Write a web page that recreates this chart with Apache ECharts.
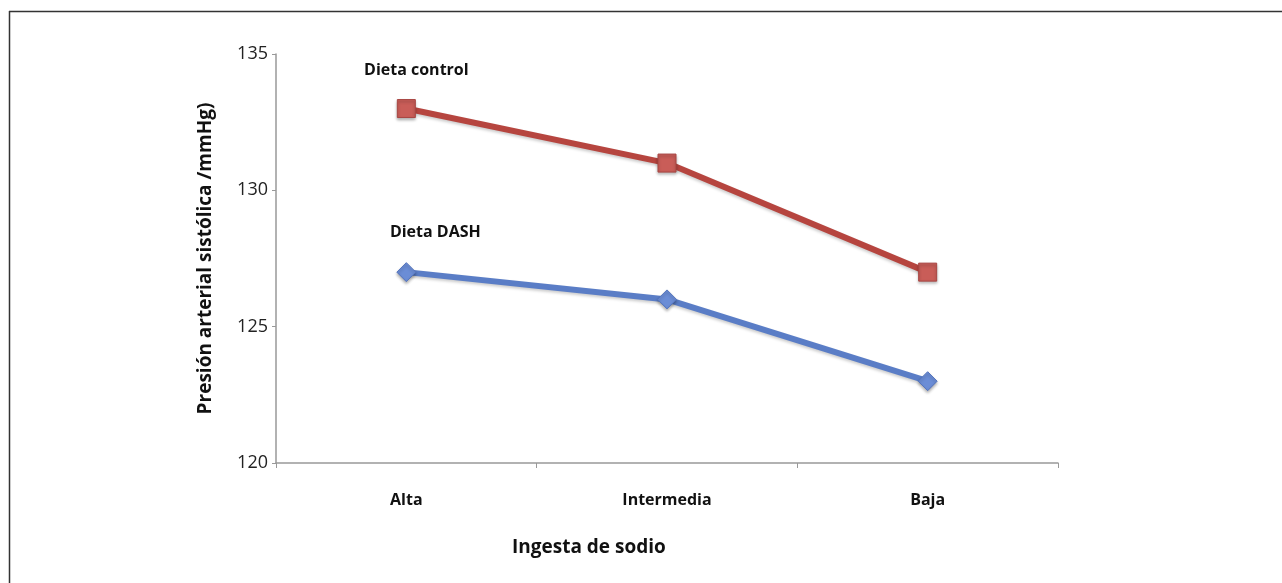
<!DOCTYPE html>
<html>
<head>
<meta charset="utf-8">
<script src="https://cdn.jsdelivr.net/npm/echarts@6/dist/echarts.min.js"></script>
<style>
html,body{margin:0;padding:0;background:#fff;}
#c{width:1282px;height:583px;}
</style>
</head>
<body>
<div id="c"></div>
<script>
const categories = ['Alta', 'Intermedia', 'Baja'];
const controlValues = [133, 131, 127];
const dashValues = [127, 126, 123];
const yTicks = [120, 125, 130, 135];
const seriesNames = ['Dieta control', 'Dieta DASH'];
const xAxisTitle = 'Ingesta de sodio';
const yAxisTitle = 'Presión arterial sistólica /mmHg)';

const FONT = '"Open Sans", "Noto Sans", sans-serif';
const chart = echarts.init(document.getElementById('c'), null, {renderer: 'canvas'});

function firstLabel(offset) {
  return {
    show: true,
    position: 'top',
    offset: offset,
    formatter: p => p.dataIndex === 0 ? p.seriesName : '',
    fontFamily: FONT, fontSize: 16, fontWeight: 'bold', color: '#111'
  };
}

chart.setOption({
  animation: false,
  backgroundColor: '#fff',
  grid: {left: 276, right: 224, top: 54, bottom: 120, containLabel: false},
  xAxis: {
    type: 'category',
    data: categories,
    boundaryGap: true,
    axisLine: {show: true, lineStyle: {color: '#999', width: 1.5}},
    axisTick: {show: true, length: 5, lineStyle: {color: '#999'}},
    axisLabel: {margin: 29, fontFamily: FONT, fontSize: 16, fontWeight: 'bold', color: '#111'},
    splitLine: {show: false}
  },
  yAxis: {
    type: 'value',
    min: yTicks[0], max: yTicks[yTicks.length - 1], interval: 5,
    name: yAxisTitle,
    nameLocation: 'middle',
    nameGap: 61,
    nameRotate: 90,
    nameTextStyle: {fontFamily: FONT, fontSize: 19, fontWeight: 'bold', color: '#111'},
    axisLine: {show: true, lineStyle: {color: '#999', width: 1.5}},
    axisTick: {show: true, length: 4, lineStyle: {color: '#999'}},
    axisLabel: {margin: 8, fontFamily: FONT, fontSize: 18, color: '#222'},
    splitLine: {show: false}
  },
  graphic: [
    {type: 'line', shape: {x1: 9, y1: 11.5, x2: 1282, y2: 11.5}, style: {stroke: '#333', lineWidth: 1.5}},
    {type: 'line', shape: {x1: 9.5, y1: 11, x2: 9.5, y2: 583}, style: {stroke: '#333', lineWidth: 1.5}},
    {type: 'text', left: 512, top: 538, style: {text: xAxisTitle, font: 'bold 19px ' + FONT, fill: '#111'}}
  ],
  series: [
    {
      name: seriesNames[0],
      type: 'line',
      data: controlValues,
      symbol: 'rect',
      symbolSize: 18,
      lineStyle: {color: '#B6453F', width: 6, shadowColor: 'rgba(0,0,0,0.2)', shadowBlur: 3, shadowOffsetY: 2},
      itemStyle: {color: '#C95D58', borderColor: '#A94643', borderWidth: 1, shadowColor: 'rgba(0,0,0,0.3)', shadowBlur: 3, shadowOffsetY: 2},
      label: firstLabel([10, -16])
    },
    {
      name: seriesNames[1],
      type: 'line',
      data: dashValues,
      symbol: 'diamond',
      symbolSize: 19,
      lineStyle: {color: '#5A7DC6', width: 6, shadowColor: 'rgba(0,0,0,0.2)', shadowBlur: 3, shadowOffsetY: 2},
      itemStyle: {color: '#6B8DD6', borderColor: '#5575BE', borderWidth: 1, shadowColor: 'rgba(0,0,0,0.3)', shadowBlur: 3, shadowOffsetY: 2},
      label: firstLabel([29, -17])
    }
  ]
});
</script>
</body>
</html>
